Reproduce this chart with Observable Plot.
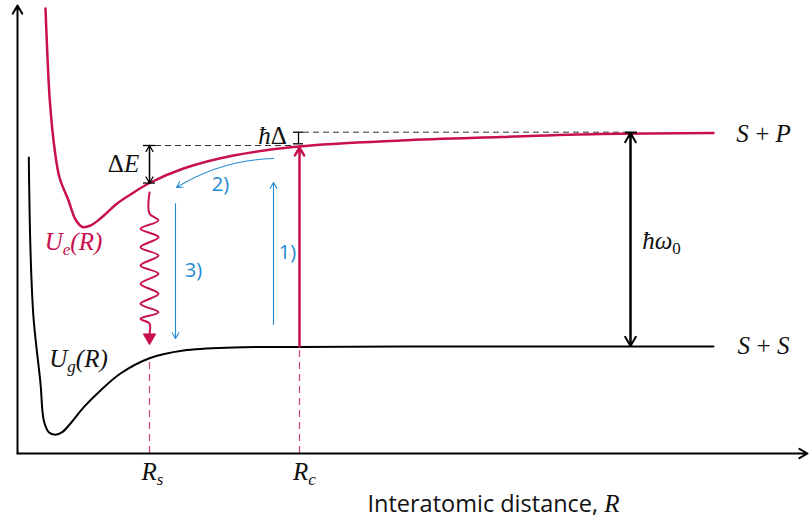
<!DOCTYPE html>
<html><head><meta charset="utf-8">
<script src="https://cdn.jsdelivr.net/npm/d3@7"></script>
<script src="https://cdn.jsdelivr.net/npm/@observablehq/plot@0.6"></script>
<style>body{margin:0;background:#fff}#chart svg{display:block}</style>
</head><body><div id="chart"></div>
<script>
// Excited-state potential U_e(R) (arbitrary units: R along x, energy U along y)
const ueR = [28, 29.7, 32.3, 37.3, 42, 51, 58, 65, 73, 83, 99.7, 113, 132, 166, 216, 281, 383, 483, 583, 696];
const ueU = [445, 403, 353, 303, 276, 253, 234, 226.5, 228, 235, 250, 259, 270.5, 285, 298, 307, 313, 316.5, 319.5, 320.5];
// Ground-state potential U_g(R)
const ugR = [11.3, 13, 16, 23, 26.3, 31.3, 38, 44.7, 53, 66.3, 83, 103, 132, 166, 216, 281, 400, 550, 696];
const ugU = [296, 203, 136, 70, 33, 21.3, 18.7, 21.3, 30, 46.3, 63, 80, 95.3, 103, 106, 106.5, 107, 107, 107];
// Wavy (spontaneous emission) path at R_s
const waveR = [132, 132, 141, 123, 141, 123, 141, 123, 141, 123, 141, 123, 141, 123, 132, 132];
const waveU = [261, 240, 233, 224.7, 216.3, 206.3, 198, 188, 179.7, 169.7, 159.7, 149.7, 141.3, 134.7, 130, 120];
// Key positions
const rS = 132, rC = 282, rOmega = 613, rEnd = 696;
const uSP = 320.5, uSS = 107, uUeRs = 270.5, uUeRc = 307, uUgRs = 95.3;
const uDE = 308, uHD = 321.3, uHDlow = 309.7;
// Labels
const mathLabels = ["ΔE", "ħΔ", "ħω0", "Ue(R)", "Ug(R)", "Rs", "Rc", "S\u2009+\u2009P", "S\u2009+\u2009S"];
const mathR = [106, 255, 644, 56, 61, 135, 287, 746, 746];
const mathU = [290, 318, 213, 212, 95, -18, -18, 320, 107.5];
const mathColor = ["#111", "#111", "#111", "#c8104e", "#111", "#111", "#111", "#111", "#111"];
const stepLabels = ["1)", "2)", "3)"];
const stepR = [270, 203, 176];
const stepU = [201, 269, 183];
const axisTitle = "Interatomic distance, R";

const red = "#c8104e", blue = "#2389d0";
const idx = n => d3.range(n);

const plot = Plot.plot({
  width: 809, height: 520,
  marginTop: 0, marginRight: 0, marginBottom: 0, marginLeft: 0,
  x: {domain: [0, 792], range: [17, 809], axis: null},
  y: {domain: [0, 448], range: [453, 5], axis: null},
  style: {background: "#fff", overflow: "visible"},
  marks: [
    // dashed R markers
    Plot.ruleX([rS], {y1: 0, y2: uUgRs, stroke: "#d0306a", strokeOpacity: 0.9, strokeWidth: 1.2, strokeDasharray: "7,5"}),
    Plot.ruleX([rC], {y1: 0, y2: uSS, stroke: "#d0306a", strokeOpacity: 0.9, strokeWidth: 1.2, strokeDasharray: "7,5"}),
    // black dashed references
    Plot.ruleY([uDE], {x1: 138, x2: 276, stroke: "#333", strokeWidth: 1, strokeDasharray: "6,4"}),
    Plot.ruleY([uHD], {x1: 286, x2: 608, stroke: "#333", strokeWidth: 1, strokeDasharray: "6,4"}),
    // potentials
    Plot.line(idx(ugR.length), {x: ugR, y: ugU, curve: "catmull-rom", stroke: "#000", strokeWidth: 2}),
    Plot.line(idx(ueR.length), {x: ueR, y: ueU, curve: "catmull-rom", stroke: red, strokeWidth: 2.5}),
    // axes
    Plot.arrow([0], {x1: 0, y1: 0, x2: 0, y2: 448, stroke: "#000", strokeWidth: 2, headLength: 7}),
    Plot.arrow([0], {x1: 0, y1: 0, x2: 790, y2: 0, stroke: "#000", strokeWidth: 2, headLength: 7}),
    // Delta E double arrow with caps
    Plot.arrow([0], {x1: rS, y1: uUeRs, x2: rS, y2: uDE, stroke: "#000", strokeWidth: 1.3, headLength: 8}),
    Plot.arrow([0], {x1: rS, y1: uDE, x2: rS, y2: uUeRs, stroke: "#000", strokeWidth: 1.3, headLength: 8}),
    Plot.ruleY([uDE, uUeRs], {x1: 126, x2: 138, stroke: "#000", strokeWidth: 1.3}),
    // hbar Delta bracket
    Plot.ruleX([281], {y1: uHDlow, y2: uHD, stroke: "#000", strokeWidth: 1.3}),
    Plot.ruleY([uHD, uHDlow], {x1: 276, x2: 286, stroke: "#000", strokeWidth: 1.3}),
    // absorption arrow at R_c
    Plot.arrow([0], {x1: rC, y1: uSS, x2: rC, y2: uUeRc - 1, stroke: red, strokeWidth: 2.5, headLength: 5.5}),
    // hbar omega0 double arrow
    Plot.arrow([0], {x1: rOmega, y1: uSS + 0.5, x2: rOmega, y2: uSP, stroke: "#000", strokeWidth: 2, headLength: 8}),
    Plot.arrow([0], {x1: rOmega, y1: uSP, x2: rOmega, y2: uSS + 0.5, stroke: "#000", strokeWidth: 2, headLength: 8}),
    Plot.ruleY([uSP + 0.5], {x1: 608, x2: 620, stroke: "#000", strokeWidth: 2}),
    // blue process arrows
    Plot.arrow([0], {x1: 256, y1: 129, x2: 256, y2: 271, stroke: blue, strokeWidth: 1.1, headLength: 9}),
    Plot.arrow([0], {x1: 256, y1: 295, x2: 159, y2: 266, bend: -15, stroke: blue, strokeWidth: 1.1, headLength: 9}),
    Plot.arrow([0], {x1: 158, y1: 250, x2: 158, y2: 115, stroke: blue, strokeWidth: 1.1, headLength: 9}),
    // wavy emission
    Plot.line(idx(waveR.length), {x: waveR, y: waveU, curve: "catmull-rom", stroke: red, strokeWidth: 2}),
    Plot.dot([0], {x: rS, y: 116, symbol: "triangle", r: 4.6, rotate: 180, fill: red, stroke: red, strokeWidth: 1}),
    // labels
    Plot.text(idx(stepLabels.length), {x: stepR, y: stepU, text: stepLabels, fill: blue, fontSize: 20, fontFamily: "Open Sans"}),
    Plot.text(idx(mathLabels.length), {x: mathR, y: mathU, text: mathLabels, fill: mathColor, fontSize: 25, fontFamily: "Liberation Serif", fontStyle: "italic"}),
    Plot.text([axisTitle], {x: 476, y: -51, text: d => d, fontSize: 23.5, fontFamily: "Open Sans", fill: "#111"})
  ]
});

// typographic refinements (subscripts, upright symbols) on the real text nodes
const markup = {
  "ΔE": '<tspan font-style="normal">Δ</tspan>E',
  "ħΔ": 'ħ<tspan font-style="normal">Δ</tspan>',
  "ħω0": 'ħω<tspan font-style="normal" font-size="17" dy="5">0</tspan>',
  "Ue(R)": 'U<tspan font-size="17" dy="5">e</tspan><tspan dy="-5">(R)</tspan>',
  "Ug(R)": 'U<tspan font-size="17" dy="5">g</tspan><tspan dy="-5">(R)</tspan>',
  "Rs": 'R<tspan font-size="17" dy="5">s</tspan>',
  "Rc": 'R<tspan font-size="17" dy="5">c</tspan>',
  "Interatomic distance, R": 'Interatomic distance, <tspan font-family="Liberation Serif" font-style="italic" font-size="25">R</tspan>'
};
plot.querySelectorAll("text").forEach(t => {
  const k = t.textContent;
  if (markup[k]) t.innerHTML = markup[k];
});
document.getElementById("chart").appendChild(plot);
</script>
</body></html>
